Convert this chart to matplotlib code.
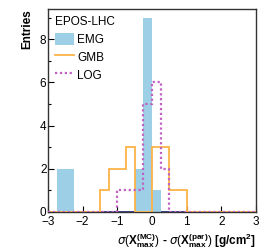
import matplotlib.pyplot as plt
import numpy as np

plt.rcParams['font.family'] = ['Liberation Sans', 'DejaVu Sans']
plt.rcParams['mathtext.fontset'] = 'custom'
plt.rcParams['mathtext.rm'] = 'Liberation Sans'
plt.rcParams['mathtext.bf'] = 'Liberation Sans:bold'

# bin edges (0.25 wide) from -3 to 3
edges = [-3.0, -2.75, -2.5, -2.25, -2.0, -1.75, -1.5, -1.25, -1.0, -0.75, -0.5, -0.25,
         0.0, 0.25, 0.5, 0.75, 1.0, 1.25, 1.5, 1.75, 2.0, 2.25, 2.5, 2.75, 3.0]
emg = [0, 2, 2, 0, 0, 0, 0, 0, 0, 0, 2, 9, 1, 0, 0, 0, 0, 0, 0, 0, 0, 0, 0, 0]
gmb = [0, 0, 0, 0, 0, 0, 1, 2, 2, 3, 0, 0, 3, 3, 1, 1, 0, 0, 0, 0, 0, 0, 0, 0]
log = [0, 0, 0, 0, 0, 0, 0, 0, 1, 1, 1, 5, 6, 2, 0, 0, 0, 0, 0, 0, 0, 0, 0, 0]

fig = plt.figure(figsize=(2.66, 2.5), dpi=100, facecolor='white')
ax = fig.add_axes([0.180, 0.152, 0.782, 0.812])

ax.axhline(0, color='#1a237e', lw=1.2, zorder=1)
ax.stairs(emg, edges, fill=True, color='#9dd0e6', label='EMG', zorder=2)
ax.stairs(gmb, edges, color='#fdb347', lw=1.3, label='GMB', zorder=3)
ax.stairs(log, edges, color='#c060c0', lw=1.6, ls=(0, (1, 1.2)), label='LOG', zorder=4)

ax.set_xlim(-3, 3)
ax.set_ylim(0, 9.4)
ax.set_xticks([-3, -2, -1, 0, 1, 2, 3])
ax.set_xticklabels(['\u22123', '\u22122', '\u22121', '0', '1', '2', '3'])
ax.set_yticks([0, 2, 4, 6, 8])
ax.set_yticks([1, 3, 5, 7, 9], minor=True)
ax.tick_params(axis='both', direction='in', labelsize=8.5, length=4, width=0.8, pad=1)
ax.tick_params(axis='x', pad=3)
ax.tick_params(axis='y', which='minor', direction='in', length=2, width=0.8)

for s in ax.spines.values():
    s.set_linewidth(1.0)
    s.set_color('#333333')

ax.set_ylabel('Entries', fontsize=8.5, fontweight='bold', loc='top', labelpad=5)
ax.set_xlabel(r'$\sigma(\mathbf{X}_{\mathbf{max}}^{\mathbf{(MC)}})$ - '
              r'$\sigma(\mathbf{X}_{\mathbf{max}}^{\mathbf{(par)}})$ [g/cm$^{\mathbf{2}}$]',
              fontsize=8.5, fontweight='bold', loc='right', labelpad=2)

leg = ax.legend(title='EPOS-LHC', loc='upper left', frameon=False, fontsize=8.5,
                title_fontsize=8.5, handlelength=1.6, handleheight=1.1,
                handletextpad=0.3, labelspacing=0.45, borderaxespad=0.2,
                alignment='left')

fig.savefig('out.png', dpi=100)
